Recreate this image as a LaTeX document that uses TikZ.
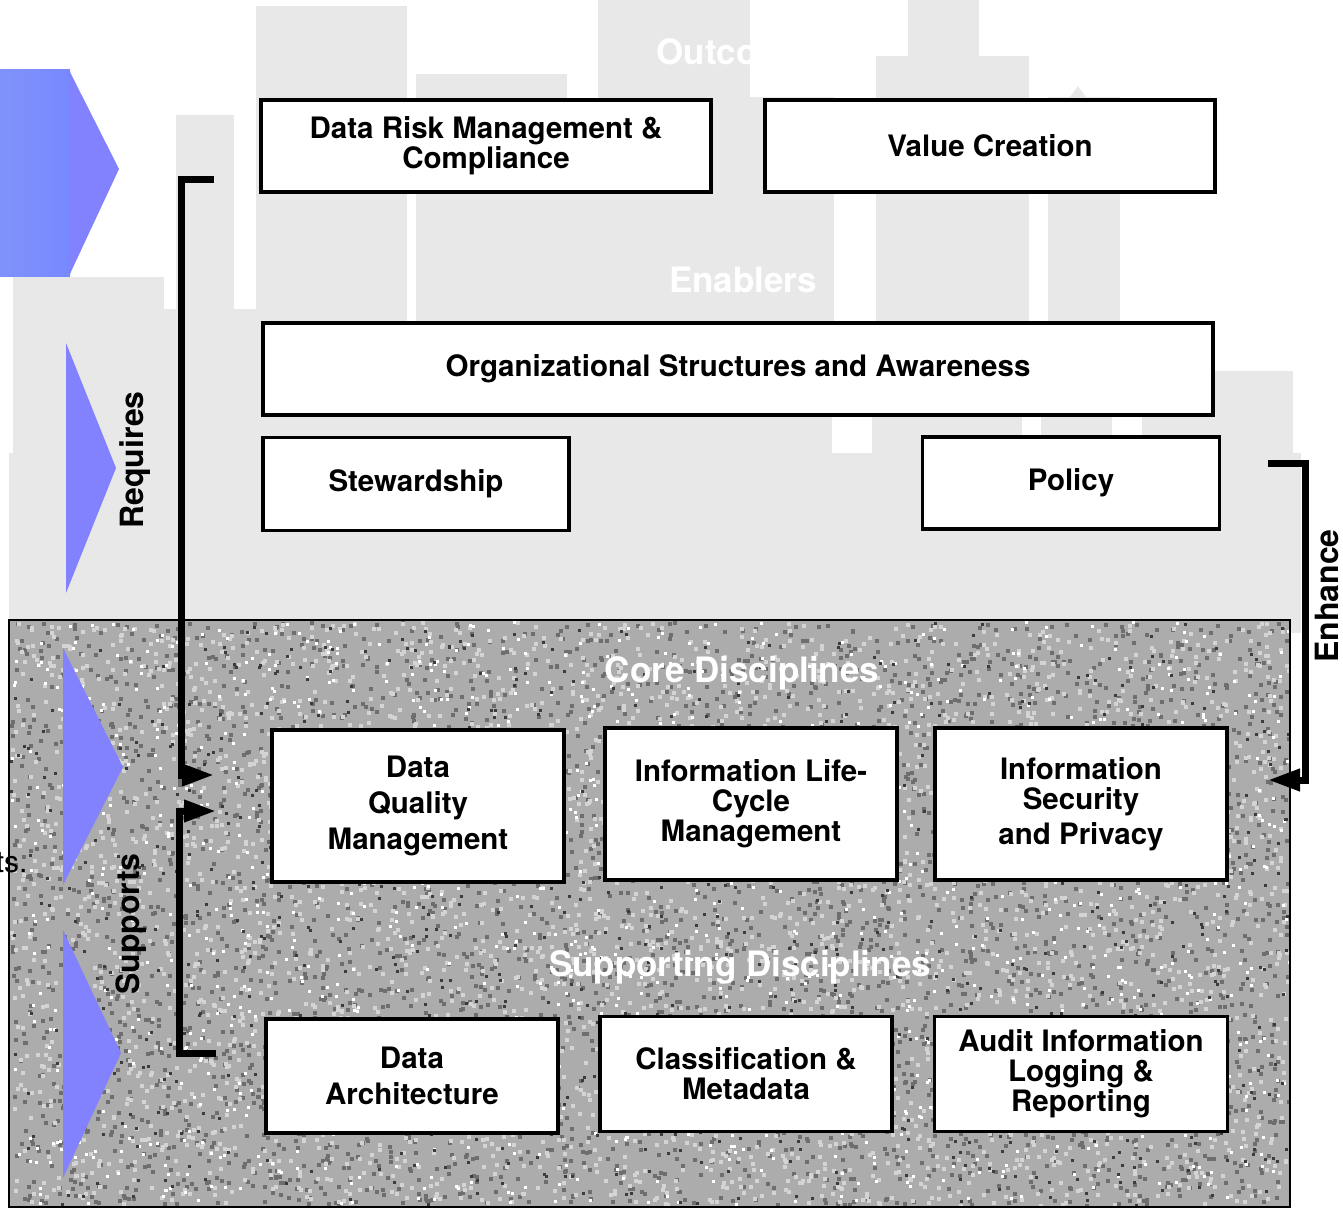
\documentclass[tikz,border=0pt]{standalone}
\usepackage{fontspec}
\setmainfont{TeX Gyre Heros}
\usetikzlibrary{arrows.meta}
\usetikzlibrary{positioning}
\definecolor{bgray}{RGB}{232,232,232}
\definecolor{arrowblue}{RGB}{130,130,255}
\definecolor{noisebase}{RGB}{172,172,172}
\definecolor{noisedark}{RGB}{110,110,110}
\definecolor{noiseblack}{RGB}{60,60,60}
\definecolor{noiselight}{RGB}{212,212,212}

\begin{document}
\begin{tikzpicture}
    [x=1pt, y=-1pt,
      discbox/.style={draw, line width=3.5pt, fill=white, align=center, inner sep=0pt,
        font=\fontsize{29.5}{30}\selectfont\bfseries},
      bandlabel/.style={text=white, font=\fontsize{35}{36}\selectfont\bfseries},
      verblabel/.style={rotate=90, font=\fontsize{32}{34}\selectfont\bfseries},
      bracketline/.style={line width=7pt, -{Triangle[length=32pt,width=21pt]}},
      greybg/.style={fill=bgray},
     ]
    \useasboundingbox (0,0) rectangle (1343,1209);

    % grey columns behind the upper part
    \fill[greybg] (256,6) rectangle (407,620);
    \fill[greybg] (176,115) rectangle (234,620);
    \fill[greybg] (13,277) rectangle (164,620);
    \fill[greybg] (9,453) rectangle (164,620);
    \fill[greybg] (164,309) rectangle (256,620);
    \fill[greybg] (416,74) rectangle (567,620);
    \fill[greybg] (567,100) rectangle (598,620);
    \fill[greybg] (598,0) rectangle (750,620);
    \fill[greybg] (750,97) rectangle (834,620);
    \fill[greybg] (748,97) -- (756,84) -- (764,97) -- cycle;
    \fill[greybg] (908,0) rectangle (979,56);
    \fill[greybg] (876,56) rectangle (1029,620);
    \fill[greybg] (1048,97) rectangle (1120,620);
    \fill[greybg] (1070,97) -- (1078,86) -- (1086,97) -- cycle;
    \fill[greybg] (164,415) rectangle (1142,620);
    \fill[greybg] (1142,371) rectangle (1293,620);
    \fill[greybg] (1290,453) rectangle (1301,633);
    \fill[white] (832,415) rectangle (872,453);
    \fill[white] (1022,415) rectangle (1041,437);
    \fill[white] (1112,415) rectangle (1142,437);

    \node[bandlabel] (outcomes) at (742,52) {Outcomes};
    \fill[white] (750,0) rectangle (872,97);
    \fill[white] (750,0) rectangle (908,56);
    \node[bandlabel] (enablers) at (743,280) {Enablers};

    % speckled lower panel
    \fill[noisebase] (9,620) rectangle (1290,1207);
    \pgfmathsetseed{42}
    \foreach \k in {1,...,3600}
      \fill[noisedark] ({10+1277*rnd},{621+583*rnd}) rectangle ++(4,4);
    \foreach \k in {1,...,3600}
      \fill[noiselight] ({10+1277*rnd},{621+583*rnd}) rectangle ++(4,4);
    \foreach \k in {1,...,1300}
      \fill[white] ({10+1278*rnd},{621+583*rnd}) rectangle ++(3,3);
    \foreach \k in {1,...,900}
      \fill[noiseblack] ({10+1278*rnd},{621+583*rnd}) rectangle ++(3,3);
    \draw[line width=2pt] (9,620) rectangle (1290,1207);

    % blue chevrons
    \shade[left color={rgb,255:red,128;green,146;blue,250}, right color={rgb,255:red,120;green,136;blue,255}]
      (0,70) rectangle (70,276);
    \fill[arrowblue] (69,70) -- (119,169) -- (69,276) -- cycle;
    \fill[arrowblue] (66,343) -- (116,468) -- (66,593) -- cycle;
    \fill[arrowblue] (63,648) -- (123,767) -- (63,885) -- cycle;
    \fill[arrowblue] (63,930) -- (121,1053) -- (63,1178) -- cycle;

    \node[anchor=east, font=\fontsize{30}{30}\selectfont] (cutlabel) at (31,863) {ts.};

    \node[bandlabel] (corelabel) at (742,673) {Core Disciplines};
    \node[bandlabel] (supportlabel) at (740,967) {Supporting Disciplines};

    % outcomes
    \node[discbox, minimum width=450, minimum height=92] (risk) at (486,146)
      {Data Risk Management \&\\Compliance};
    \node[discbox, minimum width=450, minimum height=92] (value) at (990,146)
      {Value Creation};
    % enablers
    \node[discbox, minimum width=950, minimum height=92] (org) at (738,369)
      {Organizational Structures and Awareness};
    \node[discbox, minimum width=306, minimum height=93] (steward) at (416,484)
      {Stewardship};
    \node[discbox, minimum width=297, minimum height=92] (policy) at (1071,483)
      {Policy};
    % core disciplines
    \node[discbox, minimum width=292, minimum height=152] (quality) at (418,806)
      {Data\\[6pt]Quality\\[6pt]Management};
    \node[discbox, minimum width=292, minimum height=152] (lifecycle) at (751,804)
      {Information Life-\\Cycle\\Management};
    \node[discbox, minimum width=292, minimum height=152] (security) at (1081,804)
      {Information\\Security\\[5pt]and Privacy};
    % supporting disciplines
    \node[discbox, minimum width=292, minimum height=114] (architecture) at (412,1076)
      {Data\\[6pt]Architecture};
    \node[discbox, minimum width=292, minimum height=115] (classif) at (746,1074)
      {Classification \&\\Metadata};
    \node[discbox, minimum width=293, minimum height=115] (audit) at (1081,1074)
      {Audit Information\\Logging \&\\Reporting};

    \node[verblabel] (requires) at (135,460) {Requires};
    \node[verblabel] (supports) at (131,924) {Supports};
    \node[verblabel] (enhance) at (1327,596) {Enhance};

    \coordinate (reqstart) at (214,180);
    \coordinate (reqend) at (214,775);
    \coordinate (supstart) at (216,1053);
    \coordinate (supend) at (216,811);
    \coordinate (enhstart) at (1268,463);
    \coordinate (enhend) at (1268,780);
    \draw[bracketline] (reqstart) -- ++(-33,0) |- (reqend);
    \draw[bracketline] (supstart) -- ++(-37,0) |- (supend);
    \draw[bracketline] (enhstart) -- ++(37,0) |- (enhend);
\end{tikzpicture}
\end{document}
